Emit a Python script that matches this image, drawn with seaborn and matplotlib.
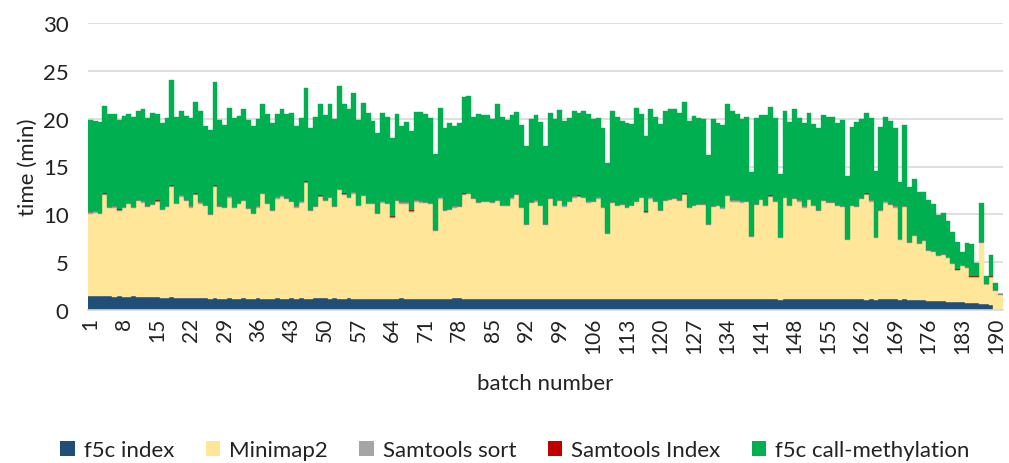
import numpy as np
import pandas as pd
import matplotlib
matplotlib.use("Agg")
import matplotlib.pyplot as plt
from matplotlib.patches import Patch
import seaborn as sns

# Per-batch runtime (minutes) of each pipeline stage, batches 1..191
f5c_index = [
    1.45, 1.45, 1.50, 1.45, 1.45, 1.40, 1.45, 1.40, 1.40, 1.45,
    1.40, 1.40, 1.35, 1.40, 1.40, 1.30, 1.30, 1.35, 1.30, 1.30,
    1.30, 1.30, 1.25, 1.30, 1.25, 1.20, 1.25, 1.20, 1.20, 1.25,
    1.20, 1.20, 1.25, 1.20, 1.20, 1.25, 1.20, 1.20, 1.20, 1.25,
    1.20, 1.20, 1.25, 1.20, 1.25, 1.20, 1.20, 1.25, 1.25, 1.30,
    1.20, 1.25, 1.20, 1.20, 1.25, 1.20, 1.20, 1.20, 1.15, 1.20,
    1.15, 1.20, 1.15, 1.20, 1.20, 1.25, 1.20, 1.20, 1.20, 1.15,
    1.20, 1.20, 1.15, 1.20, 1.20, 1.20, 1.25, 1.25, 1.20, 1.20,
    1.20, 1.20, 1.20, 1.15, 1.20, 1.20, 1.15, 1.20, 1.20, 1.15,
    1.15, 1.10, 1.15, 1.20, 1.15, 1.15, 1.20, 1.15, 1.15, 1.20,
    1.15, 1.20, 1.15, 1.15, 1.10, 1.15, 1.15, 1.10, 1.10, 1.20,
    1.20, 1.15, 1.15, 1.20, 1.15, 1.15, 1.20, 1.15, 1.15, 1.20,
    1.15, 1.15, 1.20, 1.15, 1.20, 1.15, 1.15, 1.20, 1.15, 1.10,
    1.15, 1.15, 1.15, 1.15, 1.20, 1.15, 1.15, 1.15, 1.15, 1.10,
    1.15, 1.15, 1.15, 1.10, 1.05, 1.15, 1.15, 1.20, 1.15, 1.15,
    1.15, 1.20, 1.15, 1.15, 1.20, 1.15, 1.15, 1.15, 1.10, 1.10,
    1.10, 1.10, 1.05, 1.10, 1.05, 1.10, 1.10, 1.15, 1.10, 1.05,
    1.10, 1.00, 1.05, 1.00, 1.00, 0.95, 0.95, 0.90, 0.90, 0.85,
    0.85, 0.80, 0.80, 0.75, 0.70, 0.70, 0.65, 0.65, 0.55, 0.00,
    0.00,
]

minimap2 = [
    8.63, 8.73, 8.51, 10.58, 9.18, 9.30, 8.91, 9.23, 9.65, 9.18,
    10.00, 9.83, 9.43, 9.55, 9.90, 9.13, 9.48, 11.52, 9.75, 10.55,
    10.10, 9.40, 10.78, 9.82, 9.63, 8.74, 11.62, 9.58, 9.43, 10.50,
    9.45, 9.85, 10.15, 9.33, 8.81, 9.45, 10.90, 9.85, 9.16, 10.40,
    10.65, 10.38, 10.05, 9.50, 9.98, 12.09, 9.16, 9.53, 10.57, 10.10,
    10.48, 9.53, 11.32, 10.83, 10.43, 10.97, 9.68, 10.72, 9.90, 9.85,
    8.86, 10.03, 9.90, 8.46, 10.20, 9.87, 9.92, 9.09, 10.13, 10.08,
    9.96, 9.85, 7.11, 10.45, 9.16, 9.23, 9.45, 9.53, 10.83, 10.90,
    10.38, 9.96, 10.10, 10.15, 9.96, 10.20, 9.73, 9.68, 10.45, 10.84,
    9.48, 7.79, 10.01, 10.13, 9.73, 7.74, 10.38, 9.73, 10.25, 9.61,
    10.15, 10.55, 10.67, 10.53, 10.13, 10.15, 10.50, 9.53, 6.88, 9.96,
    9.68, 9.83, 9.48, 9.68, 10.15, 10.53, 8.98, 10.50, 10.15, 9.16,
    10.25, 10.32, 10.38, 10.25, 10.83, 9.48, 9.73, 9.75, 9.80, 7.79,
    9.63, 9.73, 9.45, 10.77, 10.13, 10.18, 10.08, 10.15, 6.51, 9.85,
    10.32, 9.73, 10.67, 10.20, 6.51, 10.53, 9.73, 10.38, 10.18, 9.55,
    10.32, 9.68, 9.21, 10.25, 9.96, 10.01, 9.73, 9.63, 6.18, 9.78,
    9.68, 10.48, 10.98, 10.23, 6.51, 9.26, 10.13, 9.83, 9.60, 6.27,
    9.68, 5.97, 6.68, 5.86, 6.21, 5.21, 5.11, 4.74, 4.85, 4.62,
    3.99, 3.34, 3.79, 3.66, 2.73, 2.73, 6.39, 2.02, 2.88, 1.97,
    1.60,
]

samtools_sort = [
    0.12, 0.13, 0.12, 0.14, 0.12, 0.12, 0.13, 0.12, 0.12, 0.13,
    0.13, 0.12, 0.11, 0.12, 0.13, 0.12, 0.12, 0.14, 0.12, 0.13,
    0.12, 0.12, 0.13, 0.12, 0.12, 0.11, 0.14, 0.12, 0.12, 0.13,
    0.12, 0.12, 0.13, 0.12, 0.11, 0.12, 0.13, 0.12, 0.12, 0.13,
    0.13, 0.12, 0.12, 0.12, 0.12, 0.14, 0.12, 0.12, 0.13, 0.12,
    0.13, 0.12, 0.13, 0.13, 0.12, 0.13, 0.12, 0.13, 0.12, 0.12,
    0.11, 0.12, 0.12, 0.11, 0.12, 0.12, 0.12, 0.11, 0.12, 0.12,
    0.12, 0.12, 0.10, 0.13, 0.12, 0.12, 0.12, 0.12, 0.13, 0.13,
    0.12, 0.12, 0.12, 0.12, 0.12, 0.12, 0.12, 0.12, 0.13, 0.13,
    0.12, 0.11, 0.12, 0.12, 0.12, 0.11, 0.12, 0.12, 0.12, 0.12,
    0.12, 0.13, 0.13, 0.13, 0.12, 0.12, 0.13, 0.12, 0.10, 0.12,
    0.12, 0.12, 0.12, 0.12, 0.12, 0.13, 0.11, 0.13, 0.12, 0.12,
    0.12, 0.12, 0.13, 0.12, 0.13, 0.12, 0.12, 0.12, 0.12, 0.11,
    0.12, 0.12, 0.12, 0.13, 0.12, 0.12, 0.12, 0.12, 0.10, 0.12,
    0.12, 0.12, 0.13, 0.12, 0.10, 0.13, 0.12, 0.12, 0.12, 0.12,
    0.12, 0.12, 0.12, 0.12, 0.12, 0.12, 0.12, 0.12, 0.10, 0.12,
    0.12, 0.12, 0.13, 0.12, 0.10, 0.12, 0.12, 0.12, 0.12, 0.10,
    0.12, 0.10, 0.10, 0.10, 0.10, 0.09, 0.09, 0.09, 0.09, 0.09,
    0.08, 0.08, 0.08, 0.08, 0.07, 0.07, 0.10, 0.06, 0.07, 0.10,
    0.08,
]

samtools_index = [
    0.02, 0.02, 0.02, 0.02, 0.02, 0.02, 0.02, 0.02, 0.02, 0.02,
    0.02, 0.02, 0.03, 0.02, 0.02, 0.02, 0.02, 0.02, 0.02, 0.02,
    0.02, 0.02, 0.02, 0.02, 0.02, 0.03, 0.02, 0.02, 0.02, 0.02,
    0.02, 0.02, 0.02, 0.02, 0.02, 0.02, 0.02, 0.02, 0.02, 0.02,
    0.02, 0.03, 0.02, 0.02, 0.02, 0.02, 0.02, 0.02, 0.02, 0.02,
    0.02, 0.02, 0.02, 0.02, 0.02, 0.02, 0.02, 0.02, 0.02, 0.02,
    0.02, 0.02, 0.02, 0.02, 0.02, 0.02, 0.02, 0.02, 0.02, 0.02,
    0.02, 0.02, 0.02, 0.02, 0.02, 0.02, 0.02, 0.02, 0.02, 0.02,
    0.02, 0.02, 0.02, 0.02, 0.02, 0.02, 0.02, 0.02, 0.03, 0.02,
    0.02, 0.02, 0.02, 0.02, 0.02, 0.02, 0.02, 0.02, 0.02, 0.02,
    0.02, 0.02, 0.02, 0.02, 0.02, 0.02, 0.02, 0.02, 0.02, 0.02,
    0.02, 0.02, 0.02, 0.02, 0.02, 0.02, 0.02, 0.02, 0.02, 0.02,
    0.02, 0.02, 0.02, 0.02, 0.02, 0.02, 0.02, 0.02, 0.02, 0.02,
    0.02, 0.02, 0.02, 0.02, 0.02, 0.02, 0.02, 0.02, 0.02, 0.02,
    0.02, 0.02, 0.02, 0.02, 0.02, 0.02, 0.02, 0.02, 0.02, 0.02,
    0.02, 0.02, 0.02, 0.02, 0.02, 0.02, 0.02, 0.02, 0.02, 0.02,
    0.02, 0.02, 0.02, 0.02, 0.02, 0.02, 0.02, 0.02, 0.02, 0.02,
    0.02, 0.02, 0.02, 0.02, 0.02, 0.02, 0.02, 0.02, 0.02, 0.02,
    0.02, 0.02, 0.02, 0.02, 0.02, 0.02, 0.02, 0.02, 0.02, 0.02,
    0.02,
]

call_methylation = [
    9.64, 9.47, 9.53, 9.15, 9.68, 9.61, 9.32, 9.47, 9.26, 9.44,
    9.30, 9.68, 9.18, 9.47, 9.01, 9.01, 9.18, 11.00, 9.02, 8.85,
    8.70, 9.26, 9.61, 9.51, 8.17, 8.69, 10.76, 8.90, 8.53, 9.26,
    9.30, 9.09, 9.44, 9.19, 9.08, 9.09, 9.26, 9.26, 9.08, 8.66,
    9.06, 8.73, 9.19, 8.39, 8.73, 9.71, 8.55, 9.25, 9.54, 8.81,
    9.68, 9.01, 10.76, 9.33, 9.16, 10.41, 8.84, 9.54, 9.44, 8.56,
    8.38, 9.26, 9.02, 8.21, 8.98, 7.97, 8.39, 8.27, 9.23, 9.36,
    9.15, 8.91, 7.92, 9.36, 8.55, 9.01, 8.39, 8.59, 10.13, 10.13,
    8.49, 9.22, 8.91, 8.91, 8.70, 9.96, 9.19, 8.84, 8.59, 8.60,
    8.53, 8.10, 8.70, 8.88, 8.63, 8.17, 8.91, 8.91, 9.33, 8.80,
    8.66, 8.91, 8.60, 8.98, 9.15, 8.49, 8.31, 8.28, 7.27, 9.50,
    9.19, 8.63, 8.81, 8.38, 9.71, 8.70, 7.86, 9.19, 8.73, 8.90,
    9.30, 9.44, 9.26, 9.09, 9.57, 8.98, 9.26, 9.01, 8.91, 7.23,
    9.08, 8.56, 8.56, 9.44, 9.33, 8.98, 8.63, 8.73, 6.64, 9.01,
    8.74, 9.33, 9.30, 8.66, 6.56, 8.98, 8.66, 9.33, 8.63, 8.74,
    9.02, 8.45, 8.49, 8.81, 8.91, 8.91, 8.49, 8.94, 6.56, 8.14,
    8.73, 8.28, 8.46, 8.63, 6.81, 8.66, 8.80, 8.63, 8.15, 5.90,
    8.38, 5.76, 5.84, 5.31, 4.96, 5.24, 4.92, 4.19, 4.33, 3.77,
    3.18, 2.83, 1.33, 2.45, 3.36, 1.44, 4.01, 0.76, 2.21, 0.70,
    0.00,
]

stages = ["f5c index", "Minimap2", "Samtools sort", "Samtools Index", "f5c call-methylation"]
stage_colors = ["#1F4E79", "#FFE699", "#A5A5A5", "#C00000", "#00B050"]
batch = np.arange(1, len(f5c_index) + 1)

table = pd.DataFrame({
    "batch": batch,
    "f5c index": f5c_index,
    "Minimap2": minimap2,
    "Samtools sort": samtools_sort,
    "Samtools Index": samtools_index,
    "f5c call-methylation": call_methylation,
})

sns.set_theme(style="white")
plt.rcParams["font.family"] = ["Lato", "DejaVu Sans"]

fig = plt.figure(figsize=(10.09, 4.64), dpi=100)
ax = fig.add_axes([88 / 1009, 1 - 311 / 464, (1003 - 88) / 1009, (311 - 24) / 464])

# Stacked bars: each stage sits on the cumulative total of the stages below it
base = np.zeros(len(table))
for stage, col in zip(stages, stage_colors):
    sns.barplot(data=table, x="batch", y=stage, bottom=base, color=col,
                width=1.0, saturation=1, errorbar=None,
                edgecolor=col, linewidth=0.3, ax=ax, zorder=2)
    base = base + table[stage].to_numpy()

ax.set_ylim(0, 30)
ax.set_yticks(np.arange(0, 31, 5))
ax.set_xlim(-0.5, len(table) - 0.5)
tick_pos = np.arange(0, len(table), 7)
ax.set_xticks(tick_pos)
ax.set_xticklabels([str(b) for b in batch[tick_pos]], rotation=90)

ax.yaxis.grid(True, color="#D9D9D9", linewidth=1.2, zorder=0)
ax.set_axisbelow(True)
for side in ("left", "right", "top"):
    ax.spines[side].set_visible(False)
ax.spines["bottom"].set_color("#D9D9D9")
ax.spines["bottom"].set_linewidth(1.2)
ax.spines["bottom"].set_zorder(3)

ax.tick_params(axis="y", length=0, pad=14, labelsize=16, labelcolor="#222222")
ax.tick_params(axis="x", length=0, pad=5, labelsize=15, labelcolor="#222222")

ax.set_xlabel("batch number", fontsize=16, color="#222222", va="top")
ax.xaxis.set_label_coords(0.5, -0.22)
ax.set_ylabel("time (min)", fontsize=16, color="#222222")
ax.yaxis.set_label_coords(-0.066, 0.5)
ax.yaxis.label.set_va("center")

handles = [Patch(facecolor=c, edgecolor="none", label=s) for s, c in zip(stages, stage_colors)]
fig.legend(handles=handles, loc="center", bbox_to_anchor=(0.5104, 1 - 451 / 464),
           ncol=5, frameon=False, fontsize=16, handlelength=0.65, handleheight=0.65,
           handletextpad=0.4, columnspacing=1.42, labelcolor="#222222")

fig.savefig("out.png", dpi=100)
